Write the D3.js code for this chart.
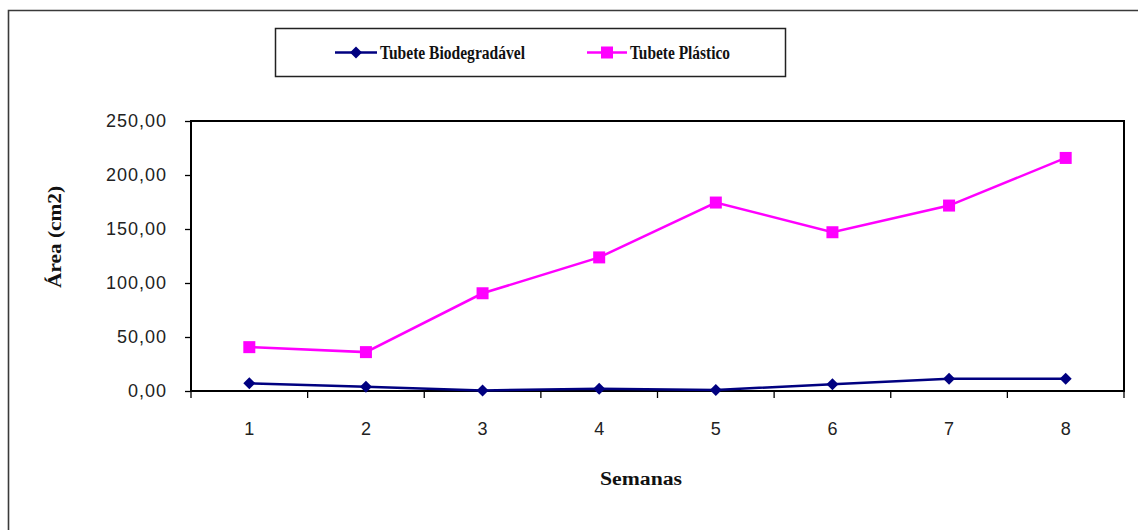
<!DOCTYPE html>
<html>
<head>
<meta charset="utf-8">
<script src="https://cdn.jsdelivr.net/npm/d3@7"></script>
<style>
  html, body { margin: 0; padding: 0; background: #fff; }
  svg { display: block; }
</style>
</head>
<body>
<script>
// Weekly leaf area by container type
const semanas = ["1", "2", "3", "4", "5", "6", "7", "8"];
const biodegradavel = [7.1, 4.0, 0.5, 2.1, 1.0, 6.3, 11.4, 11.4];
const plastico = [40.6, 36.0, 90.5, 123.7, 174.5, 147.0, 171.7, 215.8];
const yTicks = [0, 50, 100, 150, 200, 250];
const seriesNames = ["Tubete Biodegradável", "Tubete Plástico"];

const W = 1138, H = 530;
const plot = { left: 191, right: 1124, top: 121, bottom: 391 };

const svg = d3.select("body").append("svg")
  .attr("width", W).attr("height", H);

// outer frame (top and left edges visible)
svg.append("path")
  .attr("d", `M8.5,${H} L8.5,10.5 L${W},10.5`)
  .attr("fill", "none").attr("stroke", "#3a3a3a").attr("stroke-width", 1.6);

const x = d3.scaleBand().domain(semanas).range([plot.left, plot.right]).padding(0);
const y = d3.scaleLinear().domain([0, 250]).range([plot.bottom, plot.top]);

const fmt = v => d3.format(".2f")(v).replace(".", ",");

// plot area frame
svg.append("rect")
  .attr("x", plot.left).attr("y", plot.top)
  .attr("width", plot.right - plot.left).attr("height", plot.bottom - plot.top)
  .attr("fill", "none").attr("stroke", "#000").attr("stroke-width", 2);

// y axis
const yAxis = svg.append("g")
  .attr("transform", `translate(${plot.left},0)`)
  .call(d3.axisLeft(y).tickValues(yTicks).tickFormat(fmt).tickSize(6).tickPadding(18));
yAxis.select(".domain").remove();
yAxis.selectAll(".tick line").attr("stroke", "#000").attr("stroke-width", 1.3);
yAxis.selectAll(".tick text")
  .attr("font-family", "Liberation Sans, Arial, sans-serif")
  .attr("font-size", 18).attr("letter-spacing", 1).attr("fill", "#222");

// x axis: ticks sit on the category boundaries
const boundaries = d3.range(semanas.length + 1).map(i => plot.left + i * x.bandwidth());
svg.append("g").selectAll("line").data(boundaries).join("line")
  .attr("x1", d => d).attr("x2", d => d)
  .attr("y1", plot.bottom).attr("y2", plot.bottom + 7)
  .attr("stroke", "#000").attr("stroke-width", 1.3);

svg.append("g").selectAll("text").data(semanas).join("text")
  .attr("x", d => x(d) + x.bandwidth() / 2)
  .attr("y", 435)
  .attr("text-anchor", "middle")
  .attr("font-family", "Liberation Sans, Arial, sans-serif")
  .attr("font-size", 18).attr("fill", "#222")
  .text(d => d);

// axis titles
svg.append("text")
  .attr("x", 641).attr("y", 485)
  .attr("text-anchor", "middle")
  .attr("font-family", "Liberation Serif, Times New Roman, serif")
  .attr("font-weight", "bold").attr("font-size", 18)
  .attr("textLength", 82).attr("lengthAdjust", "spacingAndGlyphs")
  .attr("fill", "#111")
  .text("Semanas");

svg.append("text")
  .attr("transform", "translate(61,237) rotate(-90)")
  .attr("text-anchor", "middle")
  .attr("font-family", "Liberation Serif, Times New Roman, serif")
  .attr("font-weight", "bold").attr("font-size", 18)
  .attr("textLength", 102).attr("lengthAdjust", "spacingAndGlyphs")
  .attr("fill", "#111")
  .text("Área (cm2)");

// series
const cx = d => x(d) + x.bandwidth() / 2;
const line = d3.line().x((d, i) => cx(semanas[i])).y(d => y(d));

const series = [
  { name: seriesNames[0], values: biodegradavel, color: "#000080", symbol: "diamond" },
  { name: seriesNames[1], values: plastico, color: "#FF00FF", symbol: "square" }
];

function drawMarker(g, sym, px, py, color) {
  if (sym === "square") {
    g.append("rect").attr("x", px - 6).attr("y", py - 6)
      .attr("width", 12).attr("height", 12).attr("fill", color);
  } else {
    g.append("path")
      .attr("d", `M${px},${py - 6} L${px + 6},${py} L${px},${py + 6} L${px - 6},${py} Z`)
      .attr("fill", color);
  }
}

series.forEach(s => {
  svg.append("path")
    .datum(s.values)
    .attr("d", line)
    .attr("fill", "none")
    .attr("stroke", s.color).attr("stroke-width", 2.5);
  const g = svg.append("g");
  s.values.forEach((v, i) => drawMarker(g, s.symbol, cx(semanas[i]), y(v), s.color));
});

// legend
const legend = svg.append("g");
legend.append("rect")
  .attr("x", 275.5).attr("y", 28.5).attr("width", 510).attr("height", 48)
  .attr("fill", "#fff").attr("stroke", "#222").attr("stroke-width", 1.5);

const legendItems = [
  { s: series[0], x0: 335, x1: 377, tx: 380, tw: 145 },
  { s: series[1], x0: 587, x1: 627, tx: 630, tw: 100 }
];
legendItems.forEach(it => {
  legend.append("line")
    .attr("x1", it.x0).attr("x2", it.x1).attr("y1", 52.5).attr("y2", 52.5)
    .attr("stroke", it.s.color).attr("stroke-width", 2.5);
  drawMarker(legend, it.s.symbol, (it.x0 + it.x1) / 2, 52.5, it.s.color);
  legend.append("text")
    .attr("x", it.tx).attr("y", 59)
    .attr("font-family", "Liberation Serif, Times New Roman, serif")
    .attr("font-weight", "bold").attr("font-size", 18.5)
    .attr("textLength", it.tw).attr("lengthAdjust", "spacingAndGlyphs")
    .attr("fill", "#111")
    .text(it.s.name);
});
</script>
</body>
</html>
